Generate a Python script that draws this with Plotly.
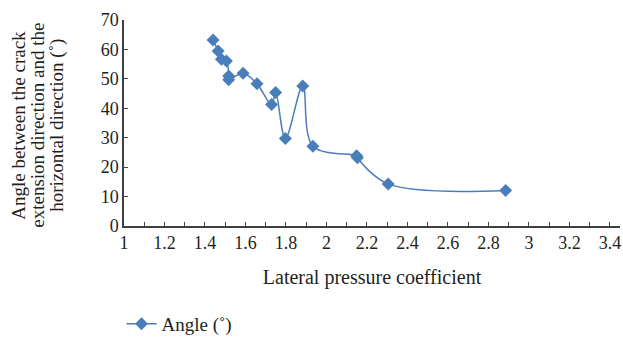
import plotly.graph_objects as go

x_vals = [1.44, 1.465, 1.481, 1.506, 1.517, 1.517, 1.588, 1.657, 1.729, 1.749,
          1.797, 1.883, 1.933, 2.149, 2.153, 2.305, 2.885]
y_vals = [63.2, 59.5, 56.7, 56.1, 51.0, 49.7, 51.9, 48.3, 41.3, 45.4,
          29.7, 47.6, 27.1, 23.9, 23.2, 14.3, 12.1]
series_name = "Angle (˚)"
x_ticks = [1, 1.2, 1.4, 1.6, 1.8, 2, 2.2, 2.4, 2.6, 2.8, 3, 3.2, 3.4]
y_ticks = [0, 10, 20, 30, 40, 50, 60, 70]
y_title_lines = ["Angle between the crack", "extension direction and the", "horizontal direction (˚)"]
x_title = "Lateral pressure coefficient"

color = "#4A7EBB"
font_family = "Liberation Serif, Times New Roman, serif"
text_color = "#231F20"

fig = go.Figure()
fig.add_trace(go.Scatter(
    x=x_vals, y=y_vals, name=series_name,
    mode="lines+markers",
    line=dict(color=color, width=1.5, shape="spline", smoothing=1),
    marker=dict(symbol="diamond", size=10, color=color),
))

# plot area: left 124px, width 496px; top 20px, height 206.5px
PL, PW, PT, PH = 124, 496, 20, 206.5
line_x_px = [19, 38, 57]
for txt, px in zip(y_title_lines, line_x_px):
    fig.add_annotation(
        text=txt, xref="paper", yref="paper",
        x=(px - PL) / PW, y=(PT + PH - 126) / PH,
        xanchor="center", yanchor="middle", textangle=-90,
        showarrow=False, font=dict(size=19, family=font_family, color=text_color),
    )

fig.update_layout(
    width=623, height=341,
    margin=dict(l=124, r=3, t=20, b=114.5, autoexpand=False),
    paper_bgcolor="white", plot_bgcolor="white",
    font=dict(family=font_family, size=18, color=text_color),
    showlegend=True,
    legend=dict(orientation="h", x=-0.005, xanchor="left", y=-0.475, yanchor="middle",
                font=dict(size=19), bgcolor="rgba(0,0,0,0)"),
    xaxis=dict(
        range=[1, 3.45], tickvals=x_ticks, ticktext=[str(t) for t in x_ticks],
        automargin=False,
        showgrid=False, zeroline=False, showline=True, linecolor="#404040", linewidth=1.5,
        ticks="inside", ticklen=4, tickcolor="#404040", tickwidth=1,
        minor=dict(dtick=0.1, tick0=1, ticks="inside", ticklen=4, tickcolor="#404040", showgrid=False),
        tickfont=dict(size=18),
        title=dict(text=x_title, font=dict(size=20), standoff=18),
    ),
    yaxis=dict(
        range=[0, 70], tickvals=y_ticks, automargin=False,
        showgrid=False, zeroline=False, showline=True, linecolor="#404040", linewidth=1.5,
        ticks="inside", ticklen=4, tickcolor="#404040", tickwidth=1,
        tickfont=dict(size=18),
    ),
)

fig.write_html("out.html")
